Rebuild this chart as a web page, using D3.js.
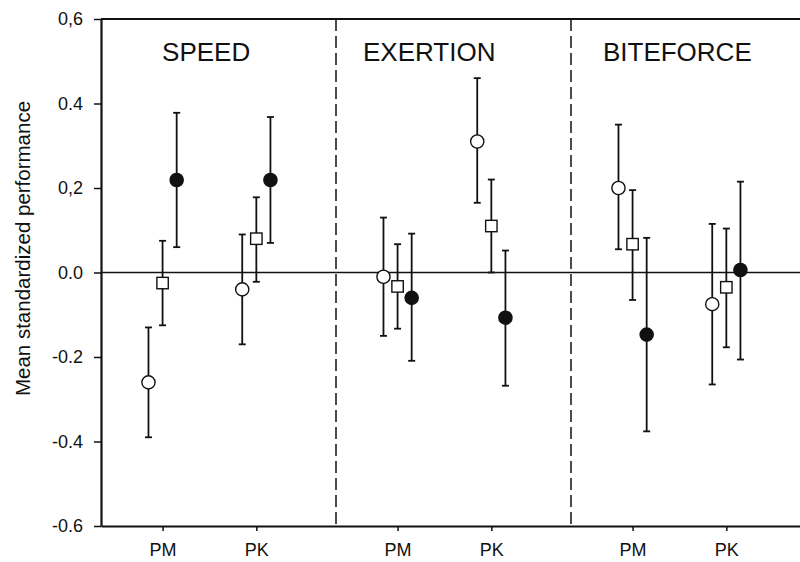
<!DOCTYPE html>
<html>
<head>
<meta charset="utf-8">
<script src="https://cdn.jsdelivr.net/npm/d3@7"></script>
<style>
  body { margin: 0; background: #fff; }
  svg { display: block; font-family: "Liberation Sans", Arial, sans-serif; }
</style>
</head>
<body>
<div id="chart"></div>
<script>
// panels and groups
const panels = ["SPEED", "EXERTION", "BITEFORCE"];
const groupLabels = ["PM", "PK", "PM", "PK", "PM", "PK"];
const groupPanel = [0, 0, 1, 1, 2, 2];

// y tick labels as printed
const yTicks = [0.6, 0.4, 0.2, 0.0, -0.2, -0.4, -0.6];
const yTickLabels = ["0,6", "0.4", "0,2", "0.0", "-0.2", "-0.4", "-0.6"];

// open circles
const openCircleMean = [-0.26, -0.04, -0.01, 0.31, 0.20, -0.075];
const openCircleHi = [-0.13, 0.09, 0.13, 0.46, 0.35, 0.115];
const openCircleLo = [-0.39, -0.17, -0.15, 0.165, 0.055, -0.265];

// open squares
const squareMean = [-0.025, 0.08, -0.033, 0.11, 0.067, -0.035];
const squareHi = [0.075, 0.178, 0.067, 0.22, 0.195, 0.104];
const squareLo = [-0.125, -0.022, -0.133, 0.0, -0.065, -0.177];

// filled circles
const filledMean = [0.219, 0.219, -0.06, -0.107, -0.147, 0.006];
const filledHi = [0.378, 0.368, 0.092, 0.052, 0.082, 0.215];
const filledLo = [0.06, 0.07, -0.209, -0.268, -0.376, -0.206];

const width = 800;
const height = 562;
const margin = { top: 19, left: 101, bottom: 36 };
const plotRight = 806; // frame continues just past the page edge

const ink = "#111";
const groupOffset = [0.262, 0.661];   // PM, PK position inside a panel
const seriesOffset = [-0.06, 0, 0.06]; // circle, square, filled
const titleOffset = [0.26, 0.115, 0.136];

const x = d3.scaleLinear().domain([0, 3]).range([margin.left, plotRight]);
const y = d3.scaleLinear().domain([-0.6, 0.6]).range([height - margin.bottom, margin.top]);

const groupX = groupLabels.map((g, i) => groupPanel[i] + groupOffset[i % 2]);

const svg = d3
  .select("#chart")
  .append("svg")
  .attr("width", width)
  .attr("height", height);

// frame top line
svg.append("line")
  .attr("x1", x(0)).attr("x2", x(3))
  .attr("y1", y(0.6)).attr("y2", y(0.6))
  .attr("stroke", ink).attr("stroke-width", 2);

// zero line
svg.append("line")
  .attr("x1", x(0)).attr("x2", x(3))
  .attr("y1", y(0)).attr("y2", y(0))
  .attr("stroke", ink).attr("stroke-width", 1.7);

// dashed panel separators
svg.selectAll(".sep")
  .data([1, 2])
  .join("line")
  .attr("class", "sep")
  .attr("x1", (d) => x(d)).attr("x2", (d) => x(d))
  .attr("y1", y(0.6)).attr("y2", y(-0.6))
  .attr("stroke", ink)
  .attr("stroke-width", 1.5)
  .attr("stroke-dasharray", "12,5");

// left axis
const yAxis = svg.append("g")
  .attr("transform", `translate(${margin.left},0)`)
  .call(
    d3.axisLeft(y)
      .tickValues(yTicks)
      .tickFormat((d, i) => yTickLabels[i])
      .tickSizeInner(7)
      .tickSizeOuter(0)
      .tickPadding(11)
  );
yAxis.select(".domain").attr("stroke", ink).attr("stroke-width", 2.2);
yAxis.selectAll(".tick line").attr("stroke", ink).attr("stroke-width", 1.5);
yAxis.selectAll("text")
  .attr("fill", ink)
  .style("font-size", "18px")
  .style("font-family", "'Liberation Sans', Arial, sans-serif");

// bottom axis
const xAxis = svg.append("g")
  .attr("transform", `translate(0,${y(-0.6)})`)
  .call(
    d3.axisBottom(x)
      .tickValues(groupX)
      .tickFormat((d, i) => groupLabels[i])
      .tickSizeInner(5)
      .tickSizeOuter(0)
      .tickPadding(12)
  );
xAxis.select(".domain").attr("stroke", ink).attr("stroke-width", 2.2);
xAxis.selectAll(".tick line").attr("stroke", ink).attr("stroke-width", 1.5);
xAxis.selectAll("text")
  .attr("fill", ink)
  .style("font-size", "18px")
  .style("font-family", "'Liberation Sans', Arial, sans-serif");

// y axis title
svg.append("text")
  .attr("transform", `translate(30,${(y(0.6) + y(-0.6)) / 2 - 24}) rotate(-90)`)
  .attr("text-anchor", "middle")
  .attr("fill", ink)
  .style("font-size", "20.5px")
  .text("Mean standardized performance");

// panel titles
svg.selectAll(".title")
  .data(panels)
  .join("text")
  .attr("class", "title")
  .attr("x", (d, i) => x(i + titleOffset[i]))
  .attr("y", 61)
  .attr("fill", ink)
  .style("font-size", "26px")
  .text((d) => d);

// error bars and markers
const series = [
  { kind: "circle", fill: "#fff", mean: openCircleMean, hi: openCircleHi, lo: openCircleLo },
  { kind: "square", fill: "#fff", mean: squareMean, hi: squareHi, lo: squareLo },
  { kind: "circle", fill: ink, mean: filledMean, hi: filledHi, lo: filledLo }
];

series.forEach((s, si) => {
  const pts = s.mean.map((m, i) => ({
    cx: x(groupX[i] + seriesOffset[si]),
    m: m, hi: s.hi[i], lo: s.lo[i]
  }));
  const g = svg.append("g");

  const bar = g.selectAll("g").data(pts).join("g");
  bar.append("line")
    .attr("x1", (d) => d.cx).attr("x2", (d) => d.cx)
    .attr("y1", (d) => y(d.hi)).attr("y2", (d) => y(d.lo))
    .attr("stroke", ink).attr("stroke-width", 1.8);
  bar.selectAll(".cap")
    .data((d) => [{ cx: d.cx, v: d.hi }, { cx: d.cx, v: d.lo }])
    .join("line")
    .attr("class", "cap")
    .attr("x1", (d) => d.cx - 3.5).attr("x2", (d) => d.cx + 3.5)
    .attr("y1", (d) => y(d.v)).attr("y2", (d) => y(d.v))
    .attr("stroke", ink).attr("stroke-width", 1.8);

  if (s.kind === "circle") {
    bar.append("circle")
      .attr("cx", (d) => d.cx)
      .attr("cy", (d) => y(d.m))
      .attr("r", 6.6)
      .attr("fill", s.fill)
      .attr("stroke", ink)
      .attr("stroke-width", 1.4);
  } else {
    bar.append("rect")
      .attr("x", (d) => d.cx - 5.7)
      .attr("y", (d) => y(d.m) - 5.7)
      .attr("width", 11.4)
      .attr("height", 11.4)
      .attr("fill", s.fill)
      .attr("stroke", ink)
      .attr("stroke-width", 1.4);
  }
});
</script>
</body>
</html>
